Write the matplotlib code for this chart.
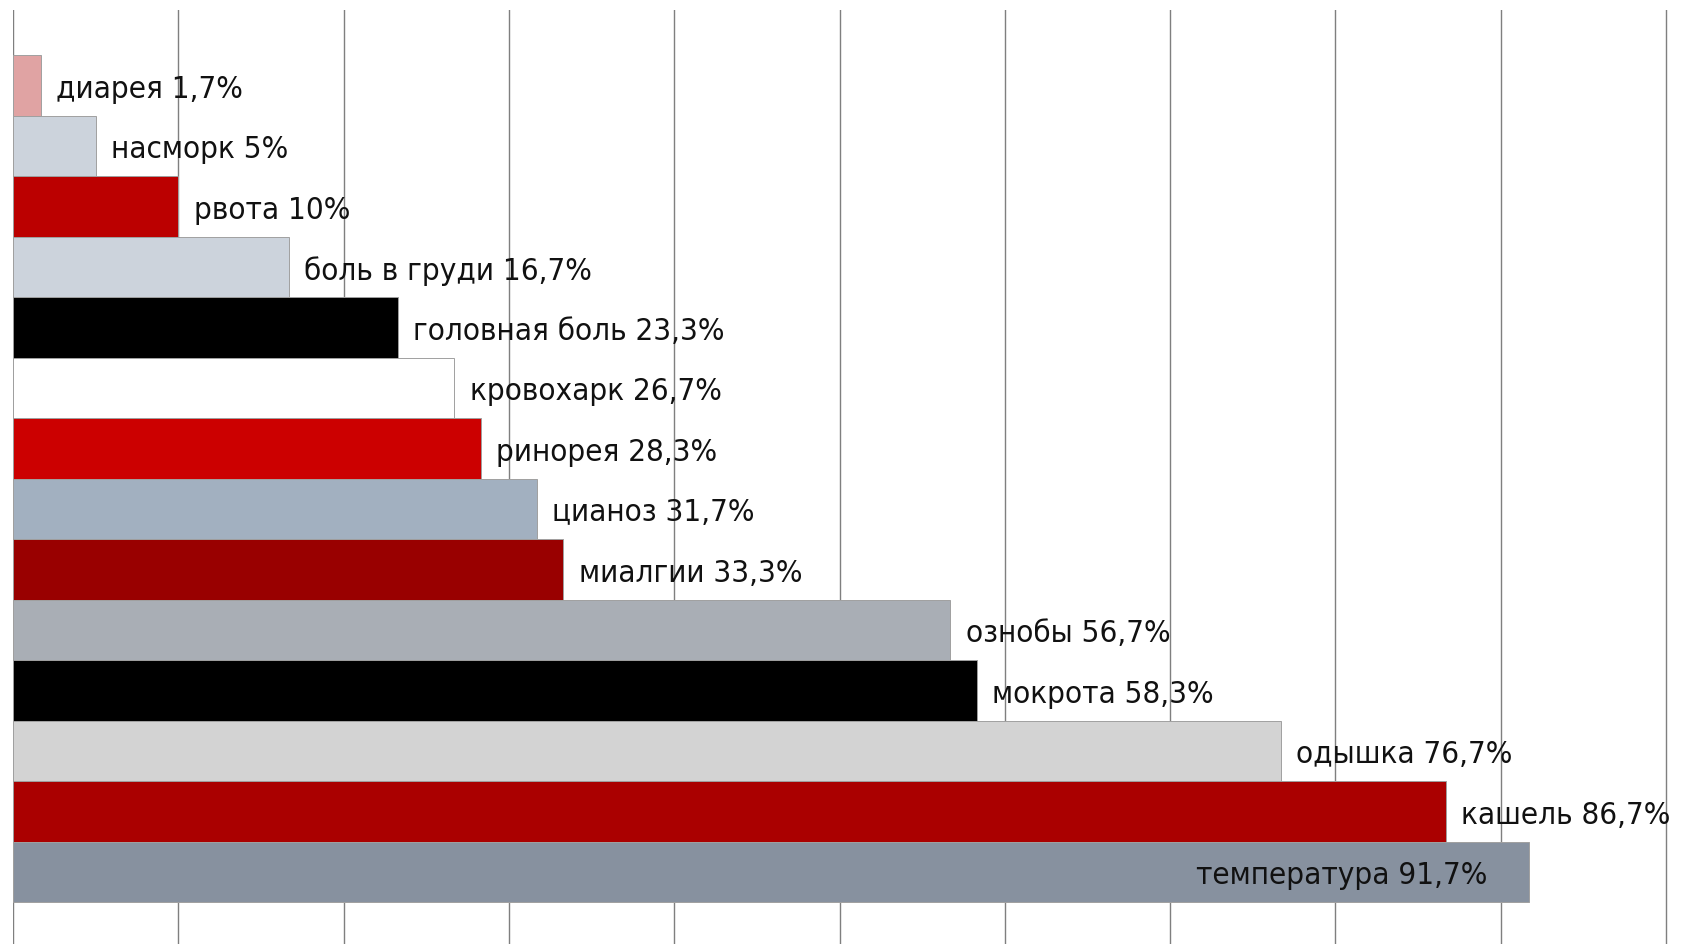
import matplotlib
matplotlib.use("Agg")
import matplotlib.pyplot as plt
from matplotlib import font_manager

# Data (top to bottom as in the reference)
symptoms = ["диарея", "насморк", "рвота", "боль в груди", "головная боль",
            "кровохарк", "ринорея", "цианоз", "миалгии", "ознобы",
            "мокрота", "одышка", "кашель", "температура"]
values = [1.7, 5, 10, 16.7, 23.3, 26.7, 28.3, 31.7, 33.3, 56.7, 58.3, 76.7, 86.7, 91.7]
value_labels = ["1,7%", "5%", "10%", "16,7%", "23,3%", "26,7%", "28,3%", "31,7%",
                "33,3%", "56,7%", "58,3%", "76,7%", "86,7%", "91,7%"]
colors = ["#e0a3a3", "#ccd3dc", "#bb0000", "#ccd3dc", "#000000", "#ffffff",
          "#cc0000", "#a2b0c0", "#990000", "#a9aeb5", "#000000", "#d3d3d3",
          "#aa0000", "#87919f"]
grid_ticks = list(range(0, 101, 10))

W, H, DPI = 1698, 944, 100
fig = plt.figure(figsize=(W / DPI, H / DPI), dpi=DPI)
fig.patch.set_facecolor("white")

left_px, top_px = 13, 10
ax = fig.add_axes([left_px / W, 0, 1 - left_px / W, 1 - top_px / H])

n = len(symptoms)
ypos = [n - 1 - i for i in range(n)]
ax.barh(ypos, values, height=1.0, color=colors, edgecolor="#a0a0a0",
        linewidth=0.7, zorder=2)

ax.set_xlim(0, (W - left_px) / 165.3 * 10)
ax.set_ylim(-0.5 - 42 / 60.5, n - 0.5 + 45 / 60.5)

ax.set_xticks(grid_ticks)
ax.set_yticks([])
ax.tick_params(axis="x", length=0, labelbottom=False)
ax.grid(axis="x", color="#7f7f7f", linewidth=1.0, zorder=1)
ax.set_axisbelow(True)
for s in ax.spines.values():
    s.set_visible(False)

fp = font_manager.FontProperties(family="DejaVu Sans", stretch="condensed", size=22.5)
for y, name, v, lab in zip(ypos, symptoms, values, value_labels):
    text = f"{name} {lab}"
    if v > 90:
        ax.annotate(text, xy=(v, y), xytext=(-30, -3), textcoords="offset points",
                    ha="right", va="center", fontproperties=fp, color="#111111", zorder=4)
    else:
        ax.annotate(text, xy=(v, y), xytext=(11, -3), textcoords="offset points",
                    ha="left", va="center", fontproperties=fp, color="#111111", zorder=4)

fig.savefig("out.png", dpi=DPI, facecolor="white")
